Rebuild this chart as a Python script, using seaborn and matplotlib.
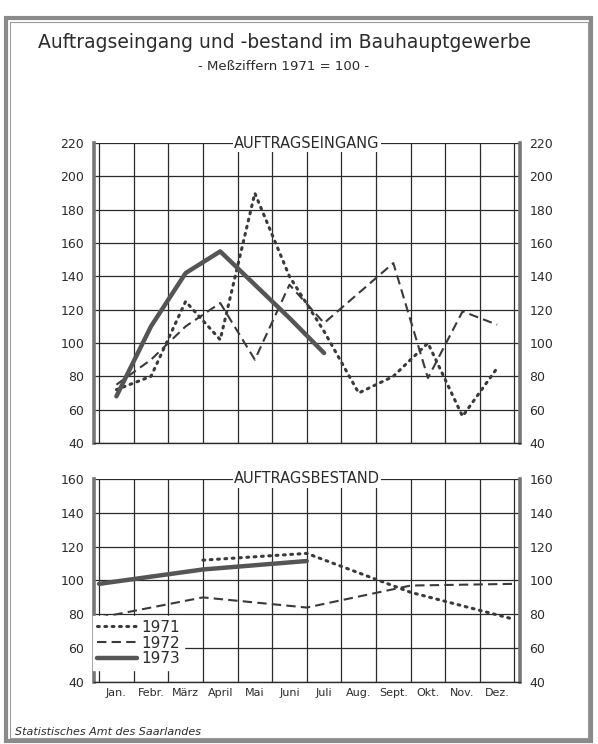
import numpy as np
import pandas as pd
import matplotlib.pyplot as plt
import seaborn as sns
from matplotlib.patches import Rectangle

# -----------------------------------------------------------------------------
# Auftragseingang und -bestand im Bauhauptgewerbe (Messziffern 1971 = 100)
# -----------------------------------------------------------------------------
months = ["Jan.", "Febr.", "März", "April", "Mai", "Juni",
          "Juli", "Aug.", "Sept.", "Okt.", "Nov.", "Dez."]
years = ["1971", "1972", "1973"]

# Auftragseingang, monthly values (plotted at month centres)
eingang_1971 = [72, 80, 125, 102, 190, 140, 107, 70, 80, 100, 56, 85]
eingang_1972 = [75, 90, 110, 124, 90, 135, 112, 130, 148, 79, 119, 111]
eingang_1973 = [68, 110, 142, 155, 135, 115, 94]

# Auftragsbestand, quarterly values (plotted at quarter boundaries)
quarter_pos = [0, 3, 6, 9, 12]
bestand_1971 = [np.nan, 112, 116, 93, 77]
bestand_1972 = [78, 90, 84, 97, 98]
bestand_1973 = [98, 106.5, 111.5, np.nan, np.nan]

sns.set_style("white")
plt.rcParams['font.family'] = ['DejaVu Sans']

ink = "#2b2b2b"
styles = {
    "1971": dict(color="#3a3a3a", linestyle=(0, (0.6, 1.8)), linewidth=2.2,
                 dash_capstyle="round"),
    "1972": dict(color="#3a3a3a", linestyle=(0, (4.5, 2.5)), linewidth=1.5),
    "1973": dict(color="#555555", linestyle="-", linewidth=3.2),
}

# long-form tables
rows = []
for yr, vals in zip(years, [eingang_1971, eingang_1972, eingang_1973]):
    for i, v in enumerate(vals):
        rows.append({"year": yr, "pos": i + 0.5, "value": v})
df_ein = pd.DataFrame(rows)

rows = []
for yr, vals in zip(years, [bestand_1971, bestand_1972, bestand_1973]):
    for p, v in zip(quarter_pos, vals):
        rows.append({"year": yr, "pos": p, "value": v})
df_bes = pd.DataFrame(rows).dropna()

fig = plt.figure(figsize=(5.98, 7.44), dpi=100)
ax1 = fig.add_axes([0.157, 0.4046, 0.712, 0.403])
ax2 = fig.add_axes([0.157, 0.0833, 0.712, 0.273])


def style_axis(ax, ymin, ymax, title, show_months):
    ax.set_xlim(-0.15, 12.15)
    ax.set_ylim(ymin, ymax)
    ax.set_xticks(np.arange(0, 13))
    ax.set_yticks(np.arange(ymin, ymax + 1, 20))
    ax.grid(True, which="major", color=ink, linewidth=0.9)
    ax.set_axisbelow(True)
    ax.set_xlabel("")
    ax.set_ylabel("")
    for side in ["left", "right"]:
        ax.spines[side].set_linewidth(2.6)
        ax.spines[side].set_color("#777777")
    ax.spines["top"].set_visible(False)
    ax.spines["bottom"].set_linewidth(1.0)
    ax.spines["bottom"].set_color(ink)
    ax.tick_params(axis="y", which="both", length=0, pad=7, labelsize=9,
                   labelleft=True, labelright=True, labelcolor=ink)
    ax.tick_params(axis="x", which="major", direction="inout", length=6,
                   width=1.0, color=ink, labelbottom=False)
    if show_months:
        ax.set_xticks(np.arange(12) + 0.5, minor=True)
        ax.set_xticklabels(months, minor=True)
        ax.tick_params(axis="x", which="minor", length=0, pad=4,
                       labelsize=8, labelcolor=ink)
    ax.text(0.5, 1.0, title, transform=ax.transAxes, ha="center",
            va="center", fontsize=10.5, color=ink, zorder=10,
            bbox=dict(facecolor="white", edgecolor="none", pad=0.8))
    legend = ax.get_legend()
    if legend is not None:
        legend.remove()


# 1. Auftragseingang
for yr in years:
    sub = df_ein[df_ein["year"] == yr]
    sns.lineplot(data=sub, x="pos", y="value", ax=ax1, label=yr,
                 **styles[yr])
style_axis(ax1, 40, 220, "AUFTRAGSEINGANG", False)

# 2. Auftragsbestand
for yr in years:
    sub = df_bes[df_bes["year"] == yr]
    sns.lineplot(data=sub, x="pos", y="value", ax=ax2, label=yr,
                 **styles[yr])
style_axis(ax2, 40, 160, "AUFTRAGSBESTAND", True)

handles, labels = ax2.get_lines()[:3], years
leg = ax2.legend(handles, labels, loc="upper left",
                 bbox_to_anchor=(-0.002, 0.325), frameon=True,
                 facecolor="white", edgecolor="white", framealpha=1,
                 fancybox=False, fontsize=11, handlelength=2.6,
                 handletextpad=0.3, labelspacing=0.05, borderpad=0.25,
                 borderaxespad=0.0)
for t in leg.get_texts():
    t.set_color(ink)
leg.set_zorder(5)

# titles
fig.text(0.475, 0.943, "Auftragseingang und -bestand im Bauhauptgewerbe",
         ha="center", va="center", fontsize=13.5, color=ink)
fig.text(0.475, 0.911, "- Meßziffern 1971 = 100 -", ha="center",
         va="center", fontsize=9.5, color=ink)

# source
fig.text(0.025, 0.016, "Statistisches Amt des Saarlandes", ha="left",
         va="center", fontsize=8, style="italic", color=ink)

# outer frame
fig.patches.append(Rectangle((0.010, 0.004), 0.978, 0.972,
                             transform=fig.transFigure, fill=False,
                             edgecolor="#8a8a8a", linewidth=3.0))
fig.patches.append(Rectangle((0.017, 0.008), 0.966, 0.962,
                             transform=fig.transFigure, fill=False,
                             edgecolor="#9a9a9a", linewidth=0.8))

plt.savefig("out.png", dpi=100, facecolor="white")
